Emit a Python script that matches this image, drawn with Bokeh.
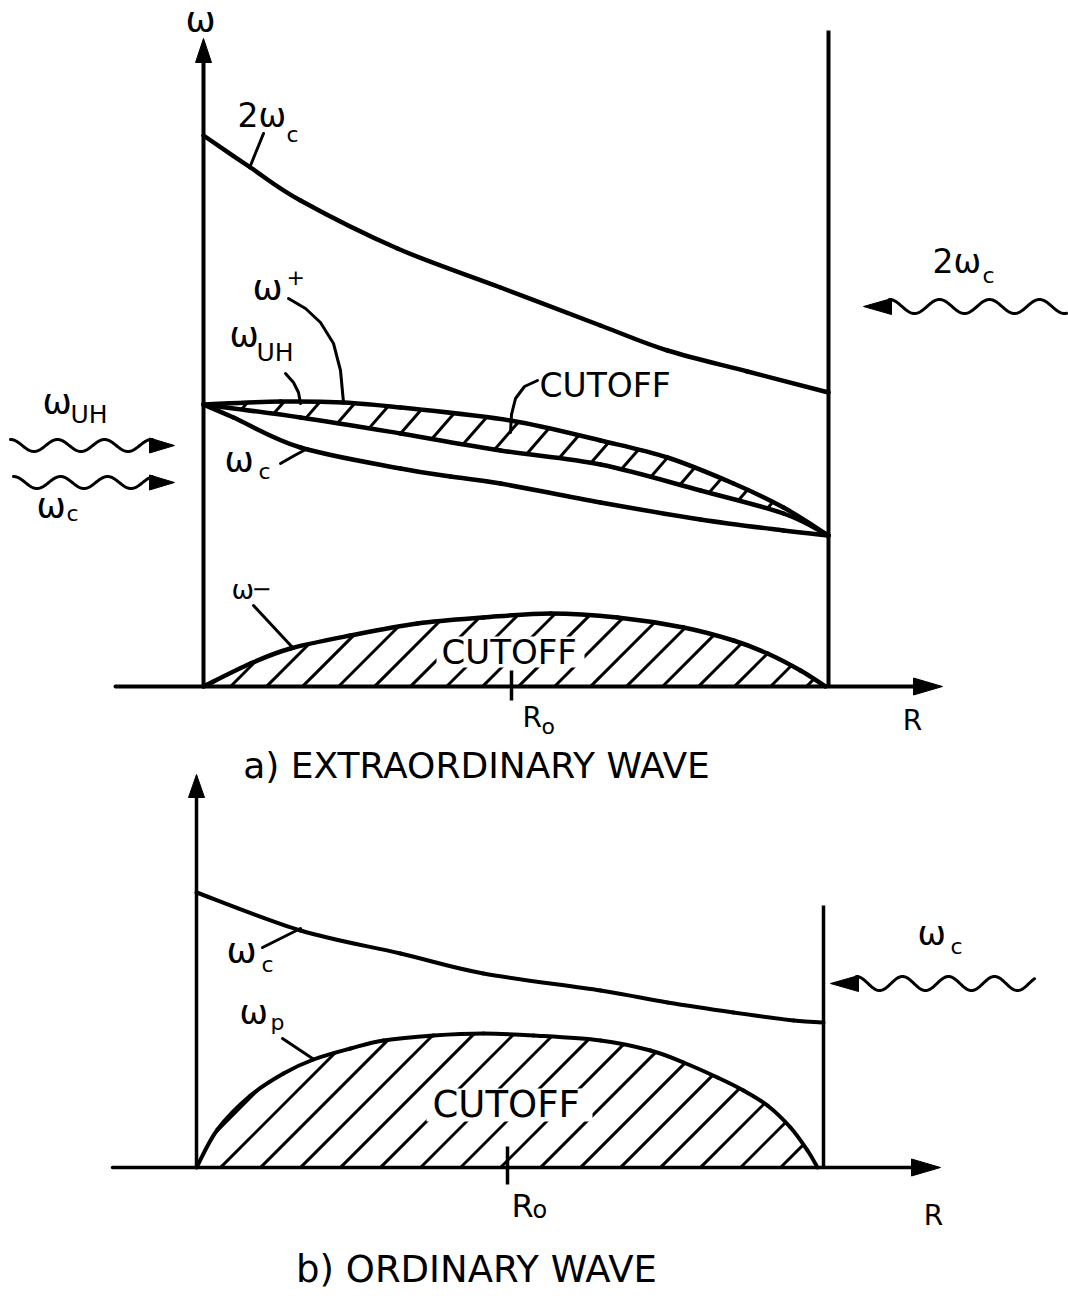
import numpy as np
from bokeh.plotting import figure
from bokeh.models import Range1d
from bokeh.core.properties import value
from bokeh.embed import file_html
from bokeh.resources import INLINE

# ---------------- curve data ----------------
# (a) extraordinary wave: R measured from the inner wall, omega above the R axis
R_2WC_A = [0, 47, 97, 194, 297, 397, 464, 544, 625]
W_2WC_A = [551, 519, 486, 438, 399, 361, 336, 315, 294]

R_WPLUS_A = [0, 77, 140, 197, 307, 397, 464, 530, 580, 625]
W_WPLUS_A = [282, 285, 284, 279, 266, 246, 229, 203, 179, 151]

R_WUH_A = [0, 97, 197, 297, 397, 497, 580, 625]
W_WUH_A = [282, 269, 253, 236, 222, 196, 173, 151]

R_WC_A = [0, 30, 97, 197, 247, 297, 397, 497, 580, 625]
W_WC_A = [282, 269, 239, 218, 210, 203, 184, 167, 156, 151]

R_WMINUS_A = [0, 47, 87, 147, 214, 280, 347, 414, 480, 530, 564, 597, 622]
W_WMINUS_A = [0, 23, 38, 51, 63, 69, 73, 69, 59, 46, 33, 16, 0]

R_WALL_A = 625
R0_A = 308

# (b) ordinary wave
R_WC_B = [0, 104, 204, 287, 404, 471, 537, 597, 627]
W_WC_B = [275, 237, 214, 194, 177, 165, 155, 147, 145]

R_WP_B = [0, 21, 54, 87, 117, 154, 187, 237, 287, 337, 404, 454, 487, 521, 547, 571, 594, 611, 621]
W_WP_B = [0, 38, 72, 94, 108, 119, 127, 132, 134, 132, 127, 117, 105, 90, 77, 62, 40, 17, 0]

R_WALL_B = 627
R0_B = 311

# ---------------- page layout ----------------
PAGE_W, PAGE_H = 1068, 1298
ORIGIN = {"a": (203, 686), "b": (196, 1167)}

p = figure(width=PAGE_W, height=PAGE_H, output_backend="svg", toolbar_location=None,
           x_range=Range1d(-ORIGIN["a"][0], PAGE_W - ORIGIN["a"][0]),
           y_range=Range1d(ORIGIN["a"][1] - PAGE_H, ORIGIN["a"][1]),
           x_axis_location=None, y_axis_location=None, min_border=0,
           outline_line_color=None, background_fill_color="white",
           border_fill_color="white")
p.grid.grid_line_color = None
p.extra_x_ranges = {"b": Range1d(-ORIGIN["b"][0], PAGE_W - ORIGIN["b"][0])}
p.extra_y_ranges = {"b": Range1d(ORIGIN["b"][1] - PAGE_H, ORIGIN["b"][1])}

FONT = value("DejaVu Sans")
INK = "black"


def rng(panel):
    return {} if panel == "a" else {"x_range_name": "b", "y_range_name": "b"}


def place(panel, xs, ys):
    """Page position -> panel (R, omega) units."""
    x0, y0 = ORIGIN[panel]
    return [x - x0 for x in xs], [y0 - y for y in ys]


def bezier_pieces(rs, ws):
    P = np.column_stack([rs, ws]).astype(float)
    E = np.vstack([P[0], P, P[-1]])
    out = []
    for i in range(len(P) - 1):
        a, b, c, d = E[i], E[i + 1], E[i + 2], E[i + 3]
        out.append((b, b + (c - a) / 6.0, c - (d - b) / 6.0, c))
    return out


def draw_curve(rs, ws, panel, width):
    segs = bezier_pieces(rs, ws)
    p.bezier(x0=[s[0][0] for s in segs], y0=[s[0][1] for s in segs],
             x1=[s[3][0] for s in segs], y1=[s[3][1] for s in segs],
             cx0=[s[1][0] for s in segs], cy0=[s[1][1] for s in segs],
             cx1=[s[2][0] for s in segs], cy1=[s[2][1] for s in segs],
             line_color=INK, line_width=width, line_cap="round", **rng(panel))


def curve_samples(rs, ws, n=40):
    t = np.linspace(0, 1, n)[:, None]
    pts = []
    for b0, c0, c1, b1 in bezier_pieces(rs, ws):
        pts.append((1 - t) ** 3 * b0 + 3 * (1 - t) ** 2 * t * c0
                   + 3 * (1 - t) * t ** 2 * c1 + t ** 3 * b1)
    pts = np.vstack(pts)
    order = np.argsort(pts[:, 0], kind="stable")
    return pts[order, 0], pts[order, 1]


def hatch(lo, hi, r0, r1, c_first, step, slope, panel, width):
    rr = np.linspace(r0, r1, 4000)
    lo_w = np.interp(rr, *lo)
    hi_w = np.interp(rr, *hi)
    xs, ys = [], []
    c = c_first
    while c < r1:
        w = slope * (rr - c)
        idx = np.nonzero((w > lo_w) & (w < hi_w))[0]
        if len(idx) > 1:
            xs.append([rr[idx[0]], rr[idx[-1]]])
            ys.append([w[idx[0]], w[idx[-1]]])
        c += step
    p.multi_line(xs, ys, line_color=INK, line_width=width, **rng(panel))


def seg(panel, xs, ys, width):
    X, Y = place(panel, xs, ys)
    p.line(X, Y, line_color=INK, line_width=width, line_cap="round",
           line_join="round", **rng(panel))


def head(panel, tip, direction, length, width):
    tx, ty = tip
    dx, dy = direction
    bx, by = tx - dx * length, ty - dy * length
    nx, ny = -dy, dx
    X, Y = place(panel, [tx, bx + nx * width / 2, bx - nx * width / 2],
                 [ty, by + ny * width / 2, by - ny * width / 2])
    p.patch(X, Y, fill_color=INK, line_color=INK, line_width=1, **rng(panel))


def wave(panel, x_start, x_end, yc, amp, period, width=3):
    xs = np.linspace(x_start, x_end, 240)
    ys = yc - amp * np.cos(2 * np.pi * (xs - x_start) / period)
    seg(panel, list(xs), list(ys), width)


def label(panel, x, y, s, size, align="left"):
    X, Y = place(panel, [x], [y])
    p.text(X, Y, text=[s], text_font=FONT, text_font_size=value(f"{size}px"),
           text_align=align, text_baseline="alphabetic", text_color=INK,
           **rng(panel))


def blank(panel, left, right, top, bottom):
    X, Y = place(panel, [left, right], [top, bottom])
    p.quad(left=[X[0]], right=[X[1]], top=[Y[0]], bottom=[Y[1]],
           fill_color="white", line_color=None, **rng(panel))


# ---------------- (a) extraordinary wave ----------------
plus_s = curve_samples(R_WPLUS_A, W_WPLUS_A)
uh_s = curve_samples(R_WUH_A, W_WUH_A)
minus_s = curve_samples(R_WMINUS_A, W_WMINUS_A)
ground_a = (np.array([0.0, R_WALL_A]), np.array([0.0, 0.0]))

hatch(uh_s, plus_s, 0, R_WALL_A, -275, 36, 1.15, "a", 3)
hatch(ground_a, minus_s, 0, R_WALL_A, 27 - 36 * 3, 36, 1.0, "a", 3)

# axes, wall and R0 tick
seg("a", [203, 203], [686, 60], 4)
head("a", (203, 38), (0, -1), 24, 16)
seg("a", [115, 915], [686, 686], 4)
head("a", (942, 686), (1, 0), 29, 17)
p.line([R_WALL_A, R_WALL_A], [0, 656], line_color=INK, line_width=4)
p.line([R0_A, R0_A], [-14, 16], line_color=INK, line_width=3.5)

draw_curve(R_2WC_A, W_2WC_A, "a", 4.5)
draw_curve(R_WPLUS_A, W_WPLUS_A, "a", 4.5)
draw_curve(R_WUH_A, W_WUH_A, "a", 4.5)
draw_curve(R_WC_A, W_WC_A, "a", 4.5)
draw_curve(R_WMINUS_A, W_WMINUS_A, "a", 4.5)

# leader lines
seg("a", [263, 250], [133, 165], 3)
seg("a", [288, 305, 320, 333, 340, 343], [298, 308, 322, 343, 370, 402], 3)
seg("a", [285, 293, 298, 300], [373, 382, 392, 403], 3)
seg("a", [280, 294, 307], [463, 455, 448], 3)
seg("a", [537, 524, 515, 511, 510], [380, 386, 398, 414, 432], 3)
seg("a", [253, 293], [605, 648], 3)

# incident waves
wave("a", 10, 152, 445, 6, 47)
head("a", (174, 445), (1, 0), 25, 15)
wave("a", 13, 152, 482, 6, 47)
head("a", (174, 482), (1, 0), 25, 15)
head("a", (863, 306), (-1, 0), 28, 16)
wave("a", 889, 1066, 306, 7, 50)

blank("a", 436, 584, 636, 667)

# label positions: (panel, x, y, text, size, align) with y at the letters' middle
LABELS = [
    ("a", 200, 19, "ω", 36, "center"),
    ("a", 237, 115, "2ω", 33, "left"), ("a", 286, 134, "c", 22, "left"),
    ("a", 252, 287, "ω", 36, "left"), ("a", 286, 276, "+", 22, "left"),
    ("a", 229, 334, "ω", 35, "left"), ("a", 256, 352, "UH", 25, "left"),
    ("a", 224, 459, "ω", 35, "left"), ("a", 258, 471, "c", 22, "left"),
    ("a", 231, 589, "ω", 27, "left"), ("a", 251, 587, "−", 24, "left"),
    ("a", 539, 385, "CUTOFF", 33, "left"),
    ("a", 441, 651, "CUTOFF", 34, "left"),
    ("a", 522, 717, "R", 28, "left"), ("a", 541, 726, "o", 22, "left"),
    ("a", 912, 720, "R", 28, "center"),
    ("a", 476, 765, "a) EXTRAORDINARY WAVE", 36, "center"),
    ("a", 932, 261, "2ω", 33, "left"), ("a", 982, 275, "c", 22, "left"),
    ("a", 42, 401, "ω", 35, "left"), ("a", 70, 414, "UH", 25, "left"),
    ("a", 36, 505, "ω", 35, "left"), ("a", 66, 513, "c", 22, "left"),
    ("b", 226, 950, "ω", 36, "left"), ("b", 261, 964, "c", 22, "left"),
    ("b", 239, 1011, "ω", 34, "left"), ("b", 270, 1022, "p", 22, "left"),
    ("b", 432, 1104, "CUTOFF", 37, "left"),
    ("b", 511, 1205, "R", 32, "left"), ("b", 532, 1209, "o", 24, "left"),
    ("b", 933, 1215, "R", 28, "center"),
    ("b", 917, 932, "ω", 34, "left"), ("b", 950, 946, "c", 22, "left"),
    ("b", 476, 1269, "b) ORDINARY WAVE", 37, "center"),
]

# ---------------- (b) ordinary wave ----------------
wp_s = curve_samples(R_WP_B, W_WP_B)
ground_b = (np.array([0.0, R_WALL_B]), np.array([0.0, 0.0]))
hatch(ground_b, wp_s, 0, R_WALL_B, 24 - 40 * 3, 40, 1.0, "b", 3)

seg("b", [196, 196], [1167, 795], 3.5)
head("b", (196, 774), (0, -1), 23, 16)
seg("b", [112, 912], [1167, 1167], 3.5)
head("b", (940, 1167), (1, 0), 29, 17)
p.line([R_WALL_B, R_WALL_B], [0, 262], line_color=INK, line_width=3.5,
       x_range_name="b", y_range_name="b")
p.line([R0_B, R0_B], [-17, 21], line_color=INK, line_width=3.5,
       x_range_name="b", y_range_name="b")

draw_curve(R_WC_B, W_WC_B, "b", 4)
draw_curve(R_WP_B, W_WP_B, "b", 4)

seg("b", [262, 300], [947, 928], 3)
seg("b", [282, 312], [1038, 1058], 3)

head("b", (830, 983), (-1, 0), 28, 16)
wave("b", 856, 1034, 983, 7, 46)

blank("b", 426, 592, 1088, 1121)

for panel, x, y, s, size, align in LABELS:
    label(panel, x, y, s, size, align)

open("out.html", "w").write(file_html(p, INLINE))
